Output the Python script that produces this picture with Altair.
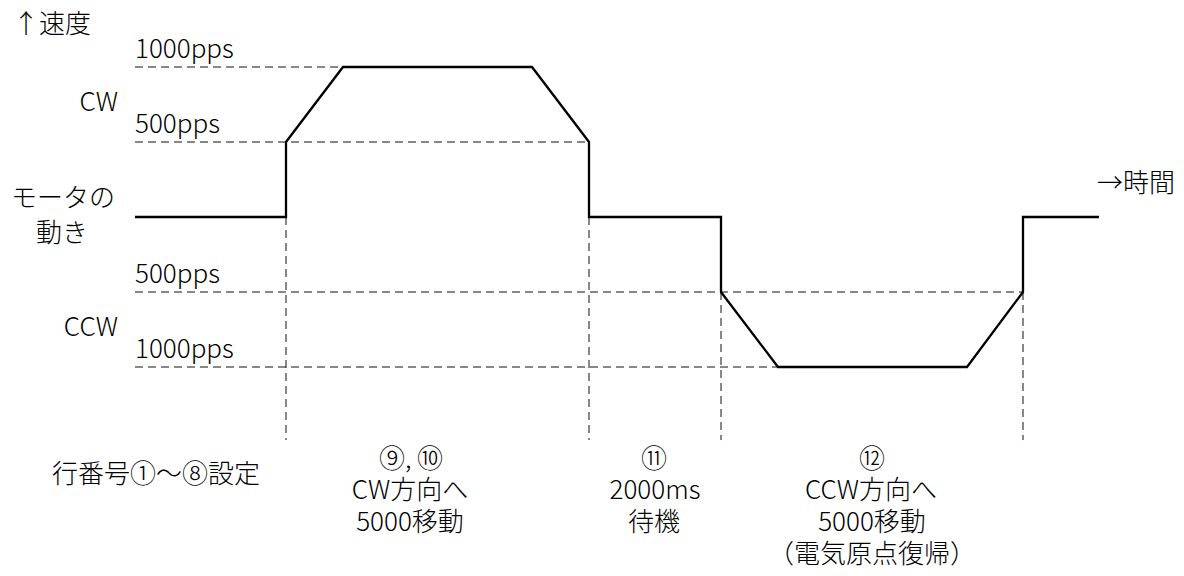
import altair as alt
import pandas as pd

FONT = "Noto Sans CJK JP"
FW = 300

# Motion profile: time (arbitrary units along the time axis), speed in pps (CW +, CCW -)
profile_t = [135, 286, 286, 343, 532, 589, 589, 721, 721, 778, 967, 1023, 1023, 1099]
profile_v = [0, 0, 500, 1000, 1000, 500, 0, 0, -500, -1000, -1000, -500, 0, 0]

# Horizontal dashed guides (speed levels) and where they end
levels = [1000, 500, -500, -1000]
level_labels = ["1000pps", "500pps", "500pps", "1000pps"]
level_end_t = [343, 589, 1023, 778]
guide_start_t = 135

# Vertical dashed guides (phase boundaries)
drop_t = [286, 589, 721, 1023]
drop_v = [0, 0, -500, -500]
guide_bottom_v = -1487

# Side / axis-like labels (image coordinates)
left_text = ["↑速度"]
left_x = [13]
left_y = [25]
right_text = ["CW", "CCW"]
right_x = [118, 118]
right_y = [103, 328]
center_text = ["モータの", "動き",
               "行番号①～⑧設定",
               "⑨, ⑩", "CW方向へ", "5000移動",
               "⑪", "2000ms", "待機",
               "⑫", "CCW方向へ", "5000移動", "（電気原点復帰）"]
center_x = [63, 62, 156, 411, 410, 410, 654, 655, 654, 872, 871, 872, 872]
center_y = [199, 234, 475, 460, 491, 523, 460, 491, 523, 460, 491, 523, 555]
time_text = ["→時間"]
time_x = [1097]
time_y = [184]

W, H = 1168, 560
xs = alt.Scale(domain=[8, 8 + W], nice=False, zero=False)
ys = alt.Scale(domain=[(217 - 8 - H) / 0.15, (217 - 8) / 0.15], nice=False, zero=False)
ps = alt.Scale(domain=[8 + H, 8], nice=False, zero=False)

prof = pd.DataFrame({"t": profile_t, "v": profile_v, "o": list(range(len(profile_t)))})
hg = pd.DataFrame({"v": levels, "t0": [guide_start_t] * 4, "t1": level_end_t, "label": level_labels})
vg = pd.DataFrame({"t": drop_t, "v0": drop_v, "v1": [guide_bottom_v] * 4})

dash = dict(color="#111111", strokeWidth=1.0, strokeDash=[8, 5])

hrules = alt.Chart(hg).mark_rule(**dash).encode(
    x=alt.X("t0:Q", scale=xs, axis=None), x2="t1:Q", y=alt.Y("v:Q", scale=ys, axis=None))
vrules = alt.Chart(vg).mark_rule(**dash).encode(
    x=alt.X("t:Q", scale=xs, axis=None), y=alt.Y("v0:Q", scale=ys, axis=None), y2="v1:Q")
line = alt.Chart(prof).mark_line(color="black", strokeWidth=2.3).encode(
    x=alt.X("t:Q", scale=xs, axis=None), y=alt.Y("v:Q", scale=ys, axis=None), order="o:Q")
lvl_text = alt.Chart(hg).mark_text(align="left", baseline="alphabetic", dy=-9, font=FONT,
                                   fontSize=26, fontWeight=FW, color="black").encode(
    x=alt.X("t0:Q", scale=xs, axis=None), y=alt.Y("v:Q", scale=ys, axis=None), text="label:N")

speed_layer = alt.layer(hrules, vrules, line, lvl_text)


def txt(texts, xv, yv, align):
    df = pd.DataFrame({"text": texts, "px": xv, "py": yv})
    return alt.Chart(df).mark_text(align=align, baseline="middle", font=FONT, fontSize=26,
                                   fontWeight=FW, color="black").encode(
        x=alt.X("px:Q", scale=xs, axis=None), y=alt.Y("py:Q", scale=ps, axis=None), text="text:N")


label_layer = alt.layer(
    txt(left_text, left_x, left_y, "left"),
    txt(right_text, right_x, right_y, "right"),
    txt(center_text, center_x, center_y, "center"),
    txt(time_text, time_x, time_y, "left"),
)

chart = alt.layer(speed_layer, label_layer).resolve_scale(y="independent").properties(
    width=W, height=H, autosize=alt.AutoSizeParams(type="none"), padding=0,
    background="white"
).configure_view(stroke=None)

chart.save("out.html", embed_options={"renderer": "svg", "actions": False})
